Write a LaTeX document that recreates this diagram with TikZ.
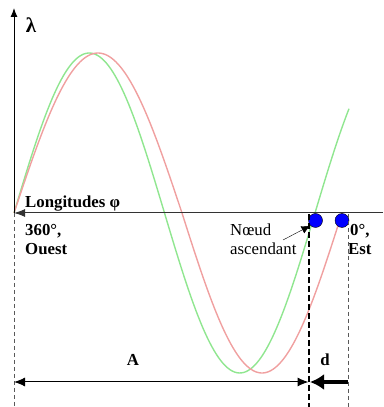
\documentclass[tikz,border=0pt]{standalone}
\usepackage{fontspec}
\setmainfont{Liberation Serif}
\usetikzlibrary{arrows.meta,positioning}
\definecolor{orbgreen}{RGB}{144,230,144}
\definecolor{orbred}{RGB}{240,160,160}
\definecolor{nodeblue}{RGB}{0,0,255}

\begin{document}
\begin{tikzpicture}[x=1pt,y=1pt,
  lab/.style={font=\fontsize{16.8}{19}\selectfont\bfseries,inner sep=0pt,anchor=base west},
  txt/.style={font=\fontsize{16.8}{19}\selectfont,inner sep=0pt,anchor=base west},
  nodedot/.style={circle,draw=black,fill=nodeblue,minimum size=14pt,inner sep=0pt},
  thinDash/.style={gray!70!black,dash pattern=on 4pt off 3pt,line width=0.8pt},
  thickDash/.style={black,dash pattern=on 6pt off 3pt,line width=2pt}]
  \useasboundingbox (0,0) rectangle (383,407);
  % the two ground tracks
  \draw[orbgreen,line width=1.4pt] plot[domain=14:349,samples=150]
     (\x,{194+160*sin((\x-14)/301*360)});
  \draw[orbred,line width=1.4pt] plot[domain=14:182,samples=80]
     (\x,{194+160*sin((\x-14)/168*180)})
     -- plot[domain=182:342,samples=80] (\x,{194-160*sin((\x-182)/160*180)});
  % axes
  \coordinate (O) at (14,194);
  \coordinate (ytop) at (14,399);
  \coordinate (xend) at (383,194);
  \draw[line width=1pt,-{Latex[length=9pt,width=7pt]}] (O) -- (ytop);
  \draw[gray!40!black,line width=1pt,-{Latex[length=11pt,width=8pt]}] (xend) -- (O);
  \node[lab,anchor=base,font=\fontsize{21}{22}\selectfont\bfseries] (lambda) at (31,374) {λ};
  \node[lab] (longi) at (25,199) {Longitudes \textbf{φ}};
  \node[lab] (ouest1) at (25,171) {360°,};
  \node[lab] (ouest2) at (25,152) {Ouest};
  \node[lab] (est1) at (350,171) {0°,};
  \node[lab] (est2) at (348,152) {Est};
  \node[txt] (noeud) at (230,171) {Nœud};
  \node[txt] (asc) at (230,152) {ascendant};
  % ascending nodes
  \node[nodedot] (ngreen) at (315.5,186.5) {};
  \node[nodedot] (nred) at (342,186.5) {};
  \coordinate (ptr) at (283,167);
  \draw[-{Latex[length=9pt,width=8pt]}] (ptr) -- (ngreen.south west);
  % vertical guides
  \coordinate (g0) at (14,0);
  \coordinate (gA) at (308.5,193);
  \coordinate (gA0) at (308.5,0);
  \coordinate (gD) at (348,193);
  \coordinate (gD0) at (348,0);
  \draw[thinDash] (O) -- (g0);
  \draw[thinDash] (gD) -- (gD0);
  \draw[thickDash] (gA) -- (gA0);
  % distances A and d
  \coordinate (aL) at (14,25);
  \coordinate (aR) at (308.5,25);
  \coordinate (dR) at (348,25);
  \draw[line width=1pt,{Latex[length=11pt,width=9pt]}-{Latex[length=11pt,width=9pt]}] (aL) -- (aR);
  \draw[line width=3.5pt,-{Latex[length=14pt,width=16pt]}] (dR) -- (310,25);
  \node[lab,anchor=base] (dA) at (133,41) {A};
  \node[lab,anchor=base] (dd) at (325,41) {d};
\end{tikzpicture}
\end{document}
